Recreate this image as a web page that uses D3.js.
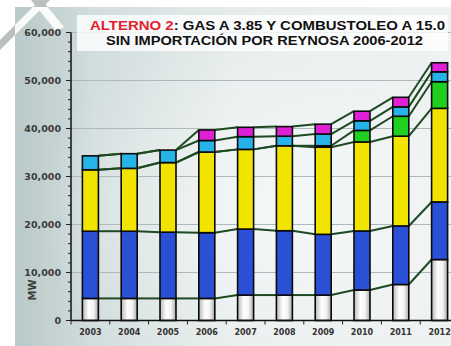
<!DOCTYPE html>
<html><head><meta charset="utf-8">
<script src="https://cdn.jsdelivr.net/npm/d3@7"></script>
<style>html,body{margin:0;padding:0;background:#fff;overflow:hidden}</style>
</head><body>
<svg id="c" width="451" height="346"></svg>
<script>
const years = ["2003","2004","2005","2006","2007","2008","2009","2010","2011","2012"];
const seriesNames = ["base","azul","amarillo","verde","cian","magenta"];
const base     = [4600,4600,4600,4600,5300,5300,5300,6350,7500,12700];
const azul     = [14000,14000,13800,13700,13750,13400,12650,12300,12200,12000];
const amarillo = [12800,13100,14500,16800,16600,17700,18150,18550,18700,19500];
const verde    = [0,0,0,0,0,0,300,2400,4150,5550];
const cian     = [2900,3050,2600,2400,2650,2000,2450,2000,1950,2050];
const magenta  = [0,0,0,2200,1950,2000,2050,2000,2000,1900];
const yTicks = [0,10000,20000,30000,40000,50000,60000];
const titleLine1Red = "ALTERNO 2";
const titleLine1Rest = ": GAS A 3.85 Y COMBUSTOLEO A 15.0";
const titleLine2 = "SIN IMPORTACIÓN POR REYNOSA 2006-2012";
const yLabel = "MW";

const table = years.map((y,i)=>({year:y, base:base[i], azul:azul[i], amarillo:amarillo[i], verde:verde[i], cian:cian[i], magenta:magenta[i]}));
const stacked = d3.stack().keys(seriesNames)(table);

const svg = d3.select("#c");
const defs = svg.append("defs");

const bg = defs.append("linearGradient").attr("id","bgG").attr("x1",0).attr("x2",1).attr("y1",0).attr("y2",0);
bg.append("stop").attr("offset","0%").attr("stop-color","#b9c8c8");
bg.append("stop").attr("offset","18%").attr("stop-color","#d2dddd");
bg.append("stop").attr("offset","50%").attr("stop-color","#e6ecec");
bg.append("stop").attr("offset","100%").attr("stop-color","#eff2f2");
const rg = defs.append("radialGradient").attr("id","hiG").attr("cx","0.6").attr("cy","0.6").attr("r","0.55");
rg.append("stop").attr("offset","0%").attr("stop-color","#ffffff").attr("stop-opacity",0.6);
rg.append("stop").attr("offset","100%").attr("stop-color","#ffffff").attr("stop-opacity",0);

const wg = defs.append("linearGradient").attr("id","whiteG").attr("x1",0).attr("x2",1);
wg.append("stop").attr("offset","0%").attr("stop-color","#b8b8b8");
wg.append("stop").attr("offset","40%").attr("stop-color","#ffffff");
wg.append("stop").attr("offset","70%").attr("stop-color","#f2f2f2");
wg.append("stop").attr("offset","100%").attr("stop-color","#a8a8a8");

const colors = {base:"url(#whiteG)", azul:"#2a50d6", amarillo:"#f0e400", verde:"#20d020", cian:"#26b4e8", magenta:"#e020d6"};

defs.append("clipPath").attr("id","bgClip").append("rect").attr("x",15).attr("y",7).attr("width",436).attr("height",339);
const band1 = [[0,40],[40,0],[50,0],[0,50]];
const band2 = [[31,0],[42,0],[64,27],[56,31]];
[band1,band2].forEach(b=>svg.append("polygon").attr("points",b.map(p=>p.join(",")).join(" ")).attr("fill","#b8c0c0"));

svg.append("rect").attr("x",15).attr("y",7).attr("width",436).attr("height",339).attr("fill","url(#bgG)");
svg.append("rect").attr("x",15).attr("y",7).attr("width",436).attr("height",339).attr("fill","url(#hiG)");
[band1,band2].forEach(b=>svg.append("polygon").attr("points",b.map(p=>p.join(",")).join(" ")).attr("fill","#ffffff").attr("opacity",0.9)
  .attr("clip-path","url(#bgClip)"));

const x0 = 71, bandW = 38.8;
const x = d3.scaleBand().domain(years).range([x0, x0 + bandW*years.length]).paddingInner(0).paddingOuter(0);
const y = d3.scaleLinear().domain([0,60000]).range([320.5,32.5]);
const barW = 16;

svg.append("g").selectAll("line").data(yTicks.filter(t=>t>0)).join("line")
  .attr("x1",x0).attr("x2",451).attr("y1",d=>y(d)).attr("y2",d=>y(d))
  .attr("stroke","#b0b9b9").attr("stroke-width",1);

svg.append("rect").attr("x",77).attr("y",15).attr("width",371).attr("height",36).attr("fill","#ffffff").attr("opacity",0.8);
const t1 = svg.append("text").attr("x",90).attr("y",30).attr("font-family","Liberation Sans, Arial, sans-serif")
  .attr("font-weight","bold").attr("font-size",13).attr("textLength",355).attr("lengthAdjust","spacingAndGlyphs");
t1.append("tspan").attr("fill","#e2202e").text(titleLine1Red);
t1.append("tspan").attr("fill","#111").text(titleLine1Rest);
svg.append("text").attr("x",106).attr("y",45).attr("font-family","Liberation Sans, Arial, sans-serif")
  .attr("font-weight","bold").attr("font-size",13).attr("fill","#111")
  .attr("textLength",317).attr("lengthAdjust","spacingAndGlyphs").text(titleLine2);

const lineG = svg.append("g");
stacked.forEach(s=>{
  for(let i=0;i<years.length-1;i++){
    const a = s[i], b = s[i+1];
    lineG.append("line")
      .attr("x1", x(years[i]) + x.bandwidth()/2 + barW/2).attr("y1", y(a[1]))
      .attr("x2", x(years[i+1]) + x.bandwidth()/2 - barW/2).attr("y2", y(b[1]))
      .attr("stroke","#1d4a22").attr("stroke-width",2);
  }
});

stacked.forEach(s=>{
  svg.append("g").selectAll("rect").data(s.filter(d=>d[1]-d[0]>0)).join("rect")
    .attr("x", d=>x(d.data.year)+x.bandwidth()/2-barW/2)
    .attr("width", barW)
    .attr("y", d=>y(d[1]))
    .attr("height", d=>y(d[0])-y(d[1]))
    .attr("fill", colors[s.key])
    .attr("stroke","#0a0a0a").attr("stroke-width",1.6);
});

const yAxis = svg.append("g");
yAxis.append("line").attr("x1",x0).attr("x2",x0).attr("y1",y(60000)).attr("y2",y(0)).attr("stroke","#111").attr("stroke-width",1.5);
const minor = d3.range(0,60001,2000);
yAxis.selectAll(".mt").data(minor).join("line").attr("class","mt")
  .attr("x1",d=>d%10000===0?x0-5:x0-3).attr("x2",x0).attr("y1",d=>y(d)).attr("y2",d=>y(d))
  .attr("stroke","#222").attr("stroke-width",1);
yAxis.selectAll("text").data(yTicks).join("text")
  .attr("x",61).attr("y",d=>y(d)+3.5).attr("text-anchor","end")
  .attr("font-family","DejaVu Sans, Verdana, sans-serif").attr("font-weight","bold").attr("font-size",9.5)
  .attr("fill","#3a3a3a").text(d=>d3.format(",")(d));
svg.append("text").attr("transform","translate(36,290) rotate(-90)").attr("text-anchor","middle")
  .attr("font-family","DejaVu Sans, Verdana, sans-serif").attr("font-weight","bold").attr("font-size",10)
  .attr("fill","#3a3a3a").text(yLabel);

const xAxis = svg.append("g");
xAxis.append("line").attr("x1",x0).attr("x2",451).attr("y1",y(0)).attr("y2",y(0)).attr("stroke","#111").attr("stroke-width",1.5);
xAxis.selectAll(".xt").data(years).join("line").attr("class","xt")
  .attr("x1",d=>x(d)).attr("x2",d=>x(d)).attr("y1",y(0)).attr("y2",y(0)+4).attr("stroke","#222").attr("stroke-width",1);
xAxis.selectAll("text").data(years).join("text")
  .attr("x",d=>x(d)+x.bandwidth()/2).attr("y",y(0)+14).attr("text-anchor","middle")
  .attr("font-family","DejaVu Sans, Verdana, sans-serif").attr("font-weight","bold").attr("font-size",8)
  .attr("fill","#333").text(d=>d);
</script>
</body></html>
